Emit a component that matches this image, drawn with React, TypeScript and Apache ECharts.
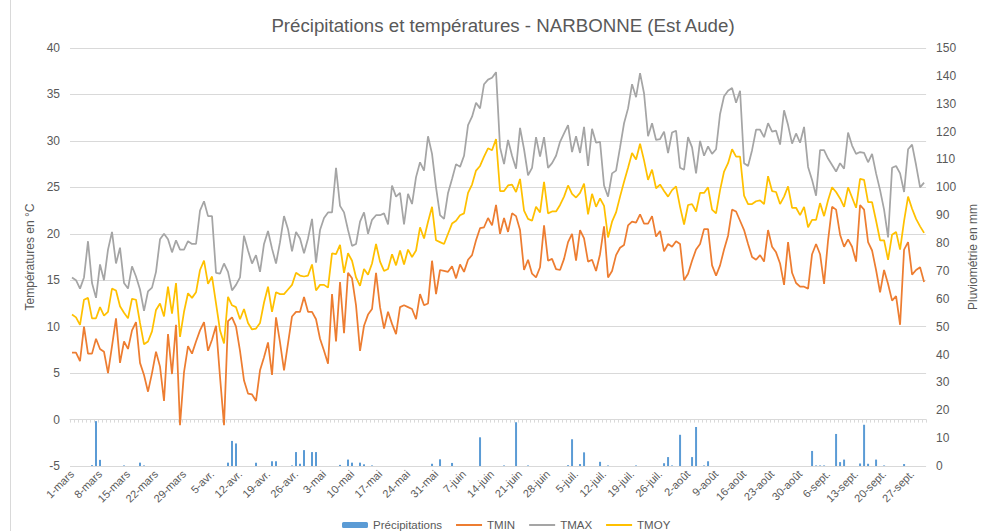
import React, { useEffect, useRef } from "react";
import * as echarts from "echarts";

const FONT = "'Liberation Sans', Arial, sans-serif";
const TEXT_COLOR = "#595959";
const GRID_COLOR = "#d9d9d9";

const TITLE = "Précipitations et températures - NARBONNE (Est Aude)";
const LEFT_AXIS_NAME = "Températures en °C";
const RIGHT_AXIS_NAME = "Pluviométrie en mm";

const MONTHS = ["mars", "avr.", "mai", "juin", "juil.", "août", "sept."];
const MONTH_DAYS = [31, 30, 31, 30, 31, 31, 30];
const categories: string[] = [];
MONTHS.forEach((m, k) => {
  for (let d = 1; d <= MONTH_DAYS[k]; d++) categories.push(`${d}-${m}`);
});

const precipitations = [
  0, 0, 0, 0, 0, 0.3, 16.1, 2.2, 0, 0,
  0, 0, 0, 0.2, 0, 0, 0, 1.2, 0.2, 0,
  0, 0, 0, 0, 0, 0, 0, 0, 0, 0,
  0, 0, 0, 0, 0, 0, 0, 0, 0, 1.2,
  9.0, 8.1, 0, 0, 0, 0, 1.2, 0, 0, 0,
  1.7, 1.7, 0, 0, 0, 0.2, 5.0, 0.8, 5.7, 0,
  5.0, 5.0, 0, 0, 0, 0, 0, 0.4, 0, 2.3,
  1.2, 0, 1.2, 0.6, 0, 0.2, 0, 0, 0, 0,
  0, 0, 0, 0, 0, 0, 0, 0, 0, 0,
  0.8, 0, 2.4, 0, 0, 1.1, 0, 0, 0, 0,
  0, 0, 10.3, 0, 0, 0, 0, 0, 0.2, 0,
  0, 15.7, 0, 0, 0.2, 0, 0, 0, 0, 0,
  0, 0, 0, 0, 0.3, 9.6, 0, 0.7, 4.9, 0,
  0, 0, 1.5, 0, 0.2, 0, 0, 0, 0, 0,
  0, 0.2, 0, 0, 0, 0, 0, 0, 1.0, 3.2,
  0.2, 0, 11.2, 0, 0, 3.2, 14.0, 0, 0.2, 1.7,
  0, 0, 0, 0, 0, 0, 0, 0, 0, 0,
  0, 0, 0, 0, 0, 0, 0, 0, 0, 0,
  0, 0, 0, 0, 0, 5.4, 0.2, 0.2, 0.2, 0,
  0, 11.5, 1.4, 2.3, 0, 0, 0, 0.9, 14.8, 0.8,
  0, 2.3, 0, 0.2, 0, 0, 0, 0, 0.7, 0,
  0, 0, 0, 0,
];

const tmin = [
  7.2, 7.2, 6.3, 10.0, 7.1, 7.1, 8.7, 7.6, 7.3, 5.0,
  7.9, 10.9, 6.1, 8.4, 7.6, 9.6, 10.5, 6.1, 4.8, 3.0,
  5.0, 7.3, 5.7, 2.0, 9.2, 4.9, 10.2, -0.6, 5.1, 7.9,
  7.1, 8.4, 9.6, 10.5, 7.4, 8.6, 10.1, 4.6, -0.6, 10.6,
  11.0, 10.0, 7.4, 4.2, 2.8, 2.7, 2.0, 5.3, 6.7, 8.3,
  4.8, 11.0, 8.3, 5.3, 8.2, 11.1, 11.6, 11.6, 13.2, 11.6,
  11.6, 10.8, 8.7, 7.4, 6.0, 13.5, 8.4, 14.8, 9.3, 15.8,
  15.2, 12.3, 7.4, 10.1, 11.3, 11.9, 15.8, 12.1, 9.8, 11.6,
  10.3, 9.2, 12.1, 12.3, 12.1, 11.9, 10.8, 13.5, 12.3, 12.5,
  17.1, 13.5, 16.1, 16.0, 15.9, 16.5, 15.2, 16.7, 15.9, 17.2,
  17.7, 19.3, 20.6, 20.7, 21.7, 20.9, 23.1, 20.0, 21.7, 20.2,
  22.2, 21.9, 20.4, 16.1, 17.2, 15.7, 15.3, 16.4, 20.9, 17.1,
  17.3, 16.2, 16.1, 17.3, 19.1, 20.0, 17.1, 20.4, 19.5, 17.0,
  17.2, 16.0, 17.8, 20.8, 15.3, 16.0, 17.7, 18.5, 18.8, 20.9,
  21.3, 21.2, 22.1, 21.1, 21.1, 21.9, 19.7, 20.3, 18.1, 18.9,
  18.6, 19.2, 18.9, 15.0, 15.7, 17.1, 18.3, 18.9, 20.5, 20.5,
  16.6, 15.5, 16.6, 18.3, 19.8, 22.6, 22.4, 21.4, 20.4, 18.9,
  17.5, 17.2, 17.7, 17.0, 20.4, 18.6, 18.0, 16.8, 14.5, 19.1,
  15.8, 14.7, 14.3, 14.3, 14.1, 17.8, 18.9, 17.8, 14.6, 19.3,
  22.9, 22.6, 19.9, 18.6, 19.4, 18.6, 17.0, 23.1, 22.6, 19.1,
  18.2, 16.1, 13.7, 16.1, 14.6, 12.8, 13.3, 10.2, 18.3, 19.1,
  15.6, 16.1, 16.4, 14.8,
];

const tmax = [
  15.3, 15.0, 14.1, 15.3, 19.2, 14.7, 13.1, 16.7, 15.0, 18.3,
  20.2, 16.8, 18.5, 14.7, 14.1, 16.5, 15.4, 14.0, 11.7, 13.8,
  14.2, 15.9, 19.4, 20.0, 19.4, 18.0, 19.3, 18.3, 18.3, 19.2,
  18.9, 18.9, 22.5, 23.5, 21.9, 21.9, 15.8, 15.7, 16.8, 15.9,
  13.9, 14.5, 15.3, 19.8, 18.2, 16.8, 17.7, 15.9, 18.9, 20.3,
  18.4, 16.8, 19.1, 21.9, 20.5, 18.1, 20.2, 19.5, 17.9, 19.5,
  21.6, 16.9, 20.4, 21.7, 22.3, 22.3, 27.1, 23.0, 22.3, 20.4,
  18.7, 18.9, 21.3, 22.3, 20.0, 21.5, 22.0, 22.0, 22.2, 21.0,
  25.2, 24.0, 24.4, 21.0, 24.3, 23.2, 26.1, 27.7, 26.8, 30.5,
  28.6, 25.0, 22.0, 21.6, 24.4, 25.9, 27.5, 27.2, 28.4, 31.7,
  32.6, 34.1, 33.5, 36.1, 36.6, 36.8, 37.4, 29.3, 27.5, 30.1,
  28.4, 27.0, 31.4, 29.1, 26.3, 27.1, 30.4, 28.3, 30.4, 27.1,
  27.6, 28.4, 29.9, 30.8, 31.7, 28.8, 30.5, 28.7, 31.5, 27.3,
  31.3, 29.8, 29.9, 25.2, 24.0, 26.5, 26.8, 29.3, 31.9, 33.5,
  36.1, 34.7, 37.3, 35.1, 30.5, 31.9, 30.1, 30.2, 31.0, 28.7,
  30.9, 31.1, 27.1, 26.9, 30.4, 29.3, 26.5, 30.0, 28.4, 29.4,
  28.6, 29.1, 32.9, 34.8, 35.4, 35.7, 34.1, 35.4, 27.6, 27.3,
  29.0, 31.2, 31.2, 30.4, 31.9, 31.0, 31.1, 29.6, 33.3, 31.7,
  29.7, 30.8, 29.8, 31.5, 27.2, 25.8, 24.1, 29.0, 29.0, 28.1,
  27.4, 26.7, 27.6, 27.0, 30.9, 29.5, 28.6, 28.8, 28.7, 27.7,
  28.6, 26.5, 24.7, 22.6, 19.6, 27.1, 27.3, 26.5, 24.5, 29.1,
  29.6, 27.4, 25.0, 25.5,
];

const tmoy = [
  11.3, 11.0, 10.2, 12.9, 13.1, 10.9, 10.9, 12.1, 11.2, 11.6,
  14.1, 13.9, 12.2, 11.5, 10.9, 13.0, 12.9, 10.4, 8.1, 8.4,
  9.5, 11.8, 12.5, 11.1, 14.3, 11.4, 14.7, 8.9, 11.6, 13.6,
  13.1, 13.7, 16.1, 17.1, 14.6, 15.4, 12.5, 9.6, 8.2, 13.2,
  12.3, 12.1, 10.8, 11.9, 10.4, 9.7, 9.8, 10.4, 12.6, 14.3,
  11.6, 13.7, 13.5, 13.5, 14.0, 14.5, 15.8, 15.5, 15.4, 15.5,
  16.7, 13.9, 14.5, 14.5, 14.2, 17.9, 17.8, 18.8, 15.8, 17.9,
  17.1, 15.3, 14.4, 16.2, 15.6, 16.8, 18.9, 17.0, 16.0, 16.2,
  17.8, 16.6, 18.2, 16.7, 18.3, 17.5, 18.2, 20.7, 19.5, 21.3,
  22.9, 19.3, 19.1, 18.9, 20.0, 21.1, 21.4, 22.0, 22.2, 24.4,
  25.3, 26.8, 27.3, 28.3, 29.2, 29.0, 30.2, 24.6, 24.6, 25.2,
  25.3, 24.5, 25.9, 22.5, 21.6, 21.4, 22.9, 22.3, 25.6, 22.2,
  22.4, 22.4, 23.1, 24.0, 25.2, 24.3, 23.9, 24.4, 25.4, 22.1,
  24.3, 22.9, 23.8, 23.0, 19.6, 21.3, 22.3, 24.0, 25.6, 27.1,
  28.7, 28.0, 29.7, 27.9, 25.8, 26.9, 24.9, 25.3, 24.6, 24.0,
  24.7, 25.1, 22.9, 21.0, 23.1, 23.2, 22.4, 24.4, 24.4, 25.0,
  22.6, 22.2, 24.7, 26.7, 27.6, 29.1, 28.3, 28.3, 24.1, 23.2,
  23.2, 23.5, 23.6, 23.2, 26.2, 24.6, 24.5, 23.2, 24.0, 25.1,
  22.8, 22.8, 22.0, 22.9, 20.7, 21.5, 21.5, 23.3, 21.9, 23.6,
  25.0, 24.5, 23.8, 22.9, 25.0, 23.9, 22.8, 25.9, 25.8, 23.4,
  23.4, 21.4, 19.3, 19.3, 17.2, 19.9, 20.2, 18.3, 21.4, 24.0,
  22.7, 21.6, 20.8, 20.1,
];

const LEGEND_NAMES = ["Précipitations", "TMIN", "TMAX", "TMOY"];

export default function App() {
  const ref = useRef<HTMLDivElement>(null);

  useEffect(() => {
    if (!ref.current) return;
    const chart = echarts.init(ref.current, null, { renderer: "svg" });
    chart.setOption({
      animation: false,
      backgroundColor: "#ffffff",
      textStyle: { fontFamily: FONT },
      graphic: [
        {
          type: "text",
          x: 503,
          y: 25,
          style: {
            text: TITLE,
            textAlign: "center",
            textVerticalAlign: "middle",
            fontSize: 18.7,
            fill: TEXT_COLOR,
            fontFamily: FONT,
          },
        },
        {
          type: "line",
          shape: { x1: 10.5, y1: 0, x2: 10.5, y2: 531 },
          style: { stroke: GRID_COLOR, lineWidth: 1 },
        },
      ],
      grid: { left: 70, right: 60, top: 48, bottom: 65, containLabel: false },
      legend: {
        data: LEGEND_NAMES.map((n, k) =>
          k === 0 ? { name: n } : { name: n, itemStyle: { opacity: 0 } }
        ),
        left: 337,
        top: 514,
        itemWidth: 26,
        itemHeight: 6,
        itemGap: 13,
        textStyle: { color: TEXT_COLOR, fontSize: 11.5, fontFamily: FONT },
      },
      xAxis: [
        {
          type: "category",
          data: categories,
          boundaryGap: true,
          position: "bottom",
          axisLine: { show: false, onZero: false },
          axisTick: { show: false },
          axisLabel: {
            interval: 6,
            rotate: 45,
            color: TEXT_COLOR,
            fontSize: 11,
            margin: 6,
            fontFamily: FONT,
          },
          splitLine: { show: false },
        },
        {
          type: "category",
          data: categories,
          boundaryGap: true,
          position: "bottom",
          offset: -46.4,
          axisLine: { show: true, onZero: false, lineStyle: { color: GRID_COLOR, width: 1 } },
          axisTick: { show: true, interval: 0, length: 3, lineStyle: { color: GRID_COLOR } },
          axisLabel: { show: false },
          splitLine: { show: false },
        },
      ],
      yAxis: [
        {
          type: "value",
          min: -5,
          max: 40,
          interval: 5,
          position: "left",
          name: LEFT_AXIS_NAME,
          nameLocation: "middle",
          nameGap: 28,
          nameRotate: 90,
          nameTextStyle: { color: TEXT_COLOR, fontSize: 12, fontFamily: FONT },
          axisLine: { show: false },
          axisTick: { show: false },
          axisLabel: { color: TEXT_COLOR, fontSize: 12, margin: 10, fontFamily: FONT },
          splitLine: { show: true, lineStyle: { color: GRID_COLOR, width: 1 } },
        },
        {
          type: "value",
          min: 0,
          max: 150,
          interval: 10,
          position: "right",
          name: RIGHT_AXIS_NAME,
          nameLocation: "middle",
          nameGap: 36,
          nameRotate: 90,
          nameTextStyle: { color: TEXT_COLOR, fontSize: 12, fontFamily: FONT },
          axisLine: { show: false },
          axisTick: { show: false },
          axisLabel: { color: TEXT_COLOR, fontSize: 12, margin: 10, fontFamily: FONT },
          splitLine: { show: false },
        },
      ],
      series: [
        {
          name: "Précipitations",
          type: "bar",
          xAxisIndex: 0,
          yAxisIndex: 1,
          data: precipitations,
          barWidth: 2,
          itemStyle: { color: "#5B9BD5" },
        },
        {
          name: "TMIN",
          type: "line",
          xAxisIndex: 0,
          yAxisIndex: 0,
          data: tmin,
          symbol: "none",
          lineStyle: { color: "#ED7D31", width: 1.75 },
          itemStyle: { color: "#ED7D31" },
        },
        {
          name: "TMAX",
          type: "line",
          xAxisIndex: 0,
          yAxisIndex: 0,
          data: tmax,
          symbol: "none",
          lineStyle: { color: "#A5A5A5", width: 1.75 },
          itemStyle: { color: "#A5A5A5" },
        },
        {
          name: "TMOY",
          type: "line",
          xAxisIndex: 0,
          yAxisIndex: 0,
          data: tmoy,
          symbol: "none",
          lineStyle: { color: "#FFC000", width: 1.75 },
          itemStyle: { color: "#FFC000" },
        },
      ],
    });
    return () => chart.dispose();
  }, []);

  return (
    <div
      ref={ref}
      style={{ position: "fixed", left: 0, top: 0, width: 987, height: 531, background: "#fff" }}
    />
  );
}
